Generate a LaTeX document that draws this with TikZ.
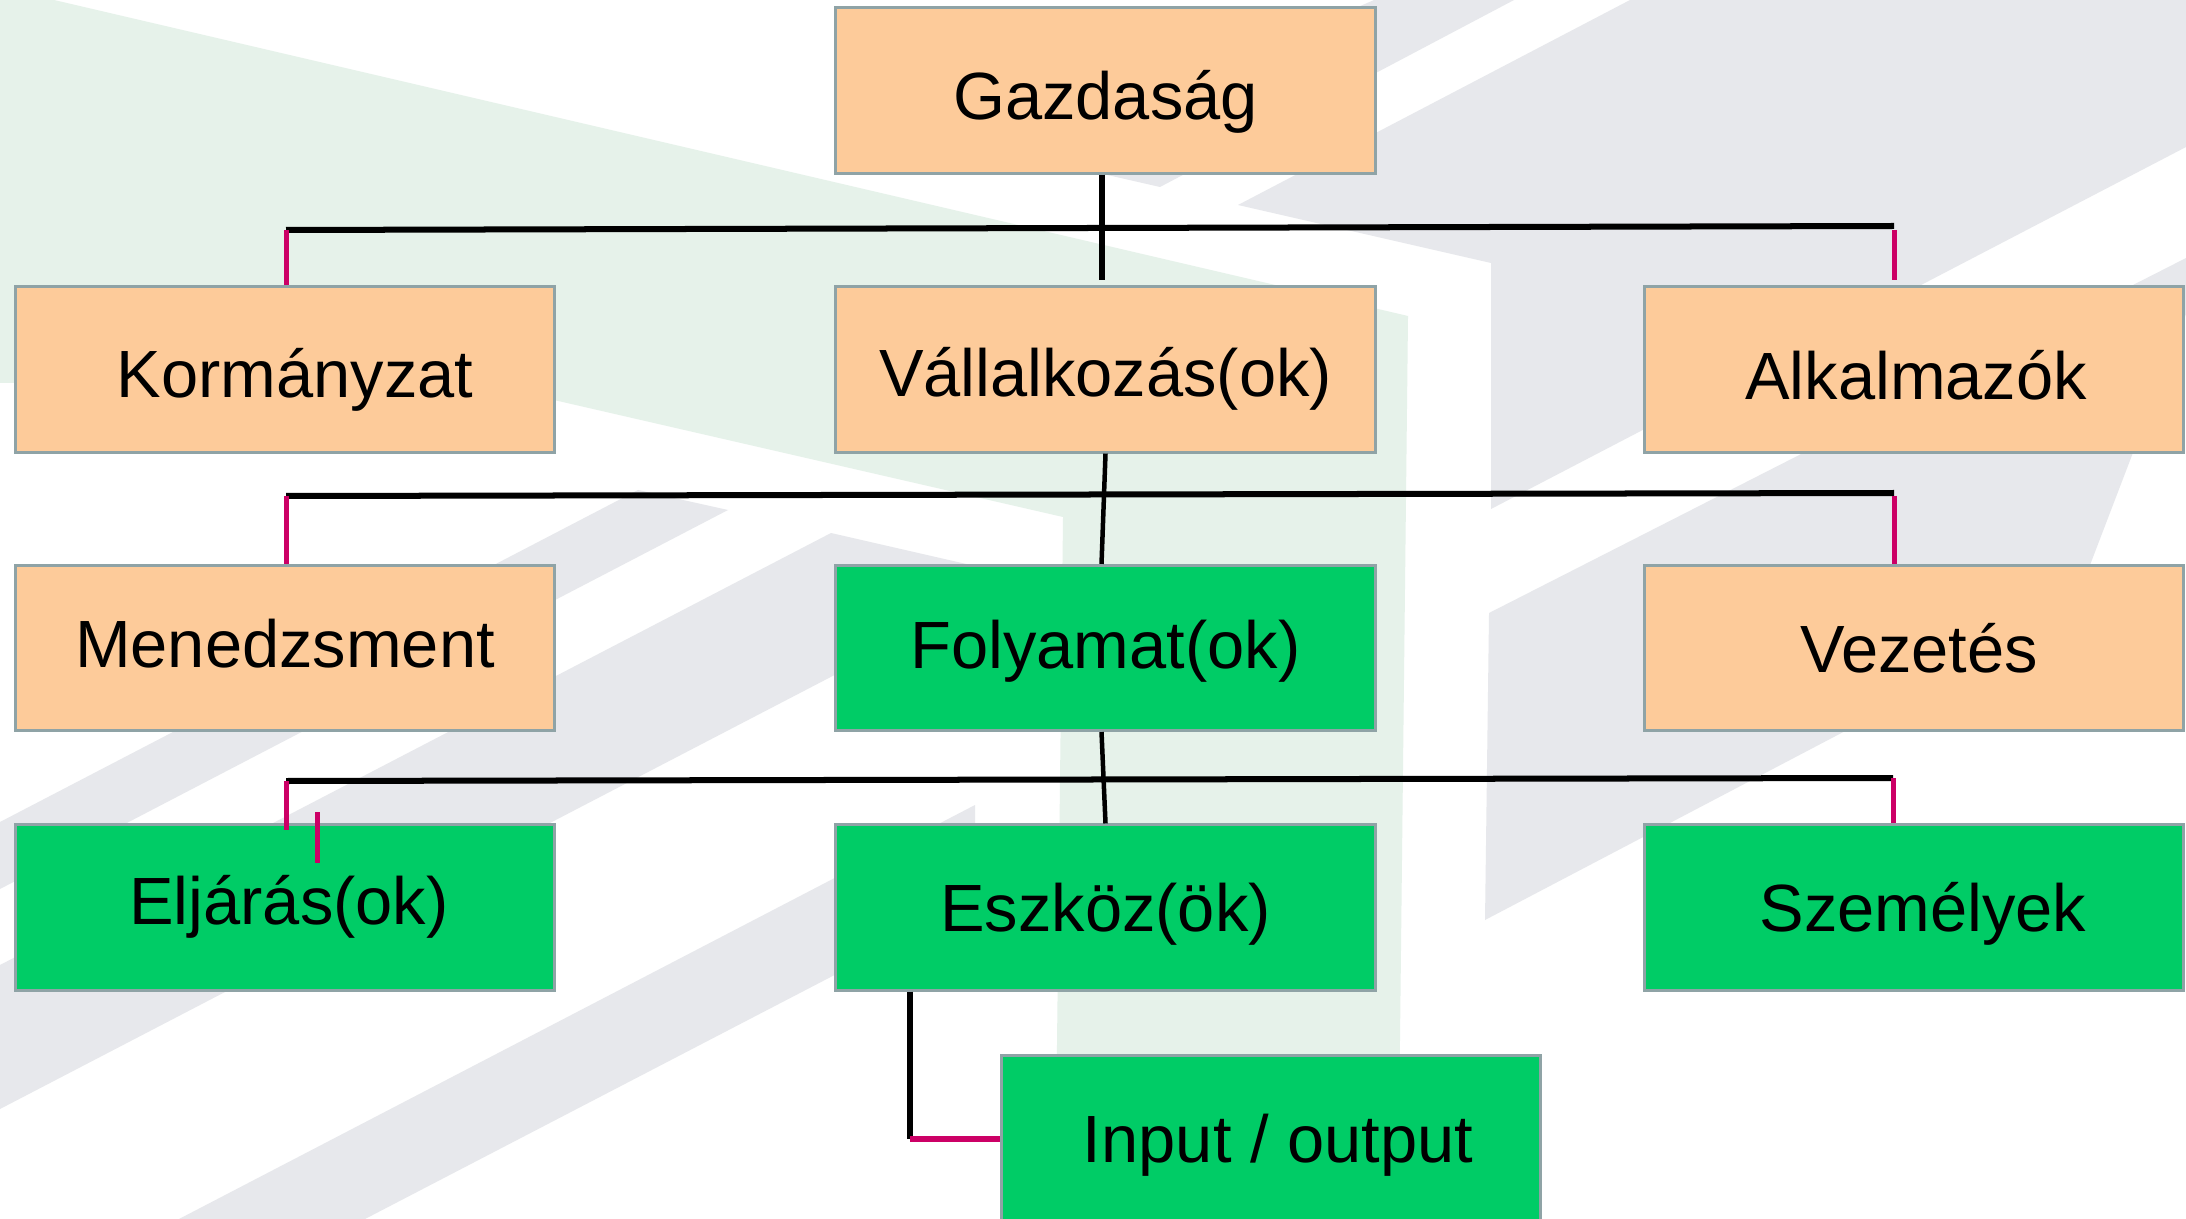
\documentclass[tikz,border=0pt]{standalone}
\usepackage{fontspec}
\setmainfont{Liberation Sans}
\usetikzlibrary{calc}
\definecolor{peach}{RGB}{253,203,154}
\definecolor{boxgreen}{RGB}{0,204,102}
\definecolor{edgegray}{RGB}{143,163,166}
\definecolor{linkpink}{RGB}{204,0,102}
\definecolor{bggreen}{RGB}{230,242,234}
\definecolor{bggray}{RGB}{231,232,236}

% label set inside its box, nudged right by #1 and down by #2
\newcommand{\boxtext}[3]{\hspace*{#1}\raisebox{-#2}{#3}}

\begin{document}
\begin{tikzpicture}[x=0.01cm,y=-0.01cm,
  box/.style={draw=edgegray,line width=0.3mm,minimum width=5.39cm,minimum height=1.65cm,
    inner sep=0pt,text height=4.8mm,text depth=0pt,font=\fontsize{19}{23}\selectfont},
  warm/.style={box,fill=peach},
  cool/.style={box,fill=boxgreen},
  bus/.style={line width=0.6mm,black},
  drop/.style={line width=0.5mm,linkpink},
  stem/.style={line width=0.45mm,black}]

\useasboundingbox (0,0) rectangle (2186,1219);
\clip (0,0) rectangle (2186,1219);
\fill[white] (0,0) rectangle (2186,1219);

% background emblem: pale green band turning into a vertical strip
\fill[bggreen] (0,0) -- (54,0) -- (1408,316) -- (1398,1219) -- (1055,1219)
  -- (1063,517) -- (480,383) -- (0,383) -- cycle;

% background emblem: grey stripes
\fill[bggray] (1374,0) -- (1514,0) -- (1160,187) -- (1020,155) -- cycle;
\fill[bggray] (1630,0) -- (2186,0) -- (2186,147) -- (1491,509) -- (1491,263)
  -- (1238,205) -- cycle;
\fill[bggray] (2186,258) -- (2186,314) -- (2072,612) -- (1485,920) -- (1489,613) -- cycle;
\fill[bggray] (638,490) -- (728,510) -- (0,889) -- (0,822) -- cycle;
\fill[bggray] (831,533) -- (1023,577) -- (0,1109) -- (0,965) -- cycle;
\fill[bggray] (975,805) -- (975,902) -- (365,1219) -- (179,1219) -- cycle;

% boxes
\node[warm] (gazd) at (1105.5,90.5) {\boxtext{0mm}{0.5mm}{Gazdaság}};
\node[warm] (korm) at (285,369.5) {\boxtext{2mm}{0.4mm}{Kormányzat}};
\node[warm] (vall) at (1105.5,369.5) {\boxtext{0mm}{0.3mm}{Vállalkozás(ok)}};
\node[warm] (alk)  at (1914,369.5) {\boxtext{0.4mm}{0.6mm}{Alkalmazók}};
\node[warm] (men)  at (285,648) {\boxtext{0mm}{-0.5mm}{Menedzsment}};
\node[cool] (foly) at (1105.5,648) {\boxtext{0mm}{-0.4mm}{Folyamat(ok)}};
\node[warm] (vez)  at (1914,648) {\boxtext{1mm}{0mm}{Vezetés}};
\node[cool] (elj)  at (285,907.5) {\boxtext{0.8mm}{-0.7mm}{Eljárás(ok)}};
\node[cool] (esz)  at (1105.5,907.5) {\boxtext{0mm}{0mm}{Eszköz(ök)}};
\node[cool] (sze)  at (1914,907.5) {\boxtext{1.8mm}{0mm}{Személyek}};
\node[cool] (io)   at (1271,1138.5) {\boxtext{1.4mm}{0mm}{Input / output}};

% first level
\coordinate (b1l) at (286,230);
\coordinate (b1r) at (1894,226);
\coordinate (d1r) at (1894,230);
\draw[bus] (b1l) -- (b1r);
\draw[bus] ([xshift=-0.04cm]gazd.south) -- ([xshift=-0.04cm,yshift=0.05cm]vall.north);
\draw[drop] (b1l) -- (b1l |- korm.north);
\draw[drop] (d1r) -- ([yshift=0.05cm]d1r |- alk.north);

% second level
\coordinate (b2l) at (286,496);
\coordinate (b2r) at (1894,493);
\coordinate (d2r) at (1894,496);
\draw[bus] (b2l) -- (b2r);
\draw[stem] (vall.south) -- ([xshift=-0.04cm]foly.north);
\draw[drop] (b2l) -- (b2l |- men.north);
\draw[drop] (d2r) -- (d2r |- vez.north);

% third level
\coordinate (b3l) at (286,781);
\coordinate (b3r) at (1893,778);
\coordinate (stub) at (317,812);
\draw[bus] (b3l) -- (b3r);
\draw[stem] ([xshift=-0.04cm]foly.south) -- (esz.north);
\draw[drop] (b3l) -- ([yshift=-0.07cm]b3l |- elj.north);
\draw[drop] (stub) -- ++(0,51);
\draw[drop] (b3r) -- (b3r |- sze.north);

% tools to input / output
\coordinate (ek) at (910,1138.5);
\draw[bus] (ek |- esz.south) -- (ek);
\draw[line width=0.6mm,linkpink] (ek) -- (io.west);
\end{tikzpicture}
\end{document}
